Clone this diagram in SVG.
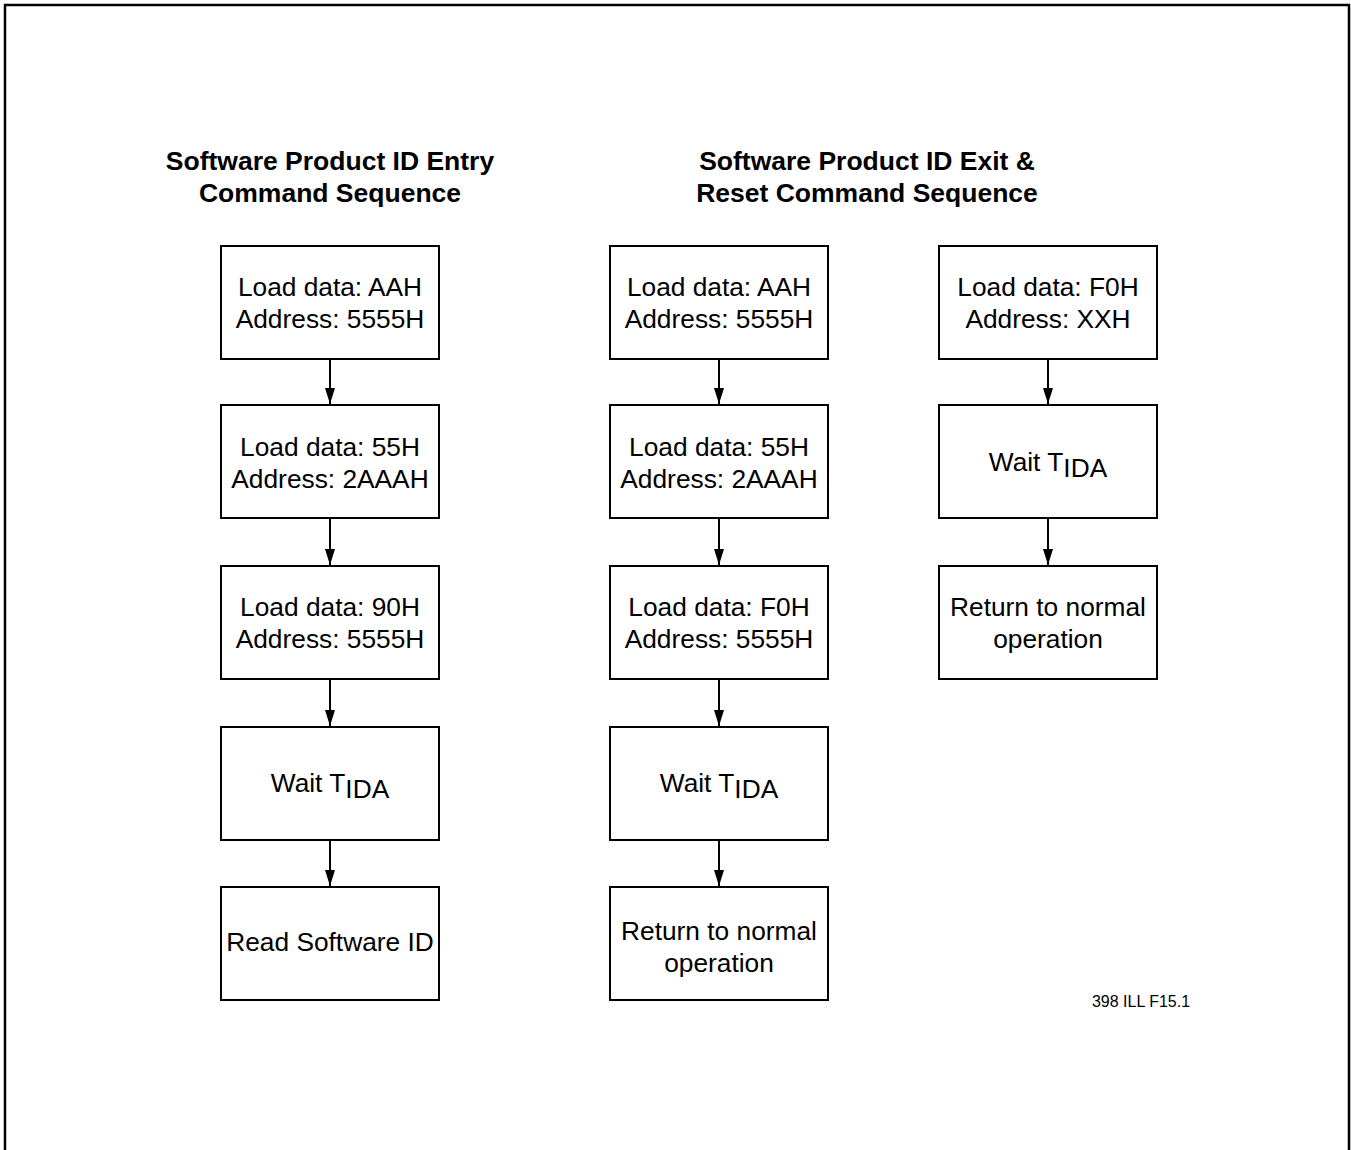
<svg xmlns="http://www.w3.org/2000/svg" width="1351" height="1150" viewBox="0 0 1351 1150">
<style>
.box{fill:#fff;stroke:#000;stroke-width:2}
.t{font-family:"Liberation Sans",Arial,sans-serif;font-size:26.3px;fill:#000;text-anchor:middle}
.h{font-family:"Liberation Sans",Arial,sans-serif;font-size:26.5px;font-weight:bold;fill:#000;text-anchor:middle}
.c{stroke:#000;stroke-width:2;fill:none;marker-end:url(#ah)}
</style>
<defs>
<marker id="ah" markerUnits="userSpaceOnUse" markerWidth="16" markerHeight="10" viewBox="0 -5 16 10" refX="16" refY="0" orient="auto">
<path d="M0,-5 L16,0 L0,5 z" fill="#000"/>
</marker>
</defs>
<rect width="1351" height="1150" fill="#fff"/>
<path d="M5,1152 V5 H1349 V1152" fill="none" stroke="#000" stroke-width="2.5"/>
<g id="titles">
<text class="h" x="330" y="170">Software Product ID Entry</text>
<text class="h" x="330" y="202">Command Sequence</text>
<text class="h" x="867" y="170">Software Product ID Exit &amp;</text>
<text class="h" x="867" y="202">Reset Command Sequence</text>
</g>
<g id="connectors">
<line class="c" x1="330" y1="360" x2="330" y2="404"/>
<line class="c" x1="330" y1="519" x2="330" y2="565"/>
<line class="c" x1="330" y1="680" x2="330" y2="726"/>
<line class="c" x1="330" y1="841" x2="330" y2="886"/>
<line class="c" x1="719" y1="360" x2="719" y2="404"/>
<line class="c" x1="719" y1="519" x2="719" y2="565"/>
<line class="c" x1="719" y1="680" x2="719" y2="726"/>
<line class="c" x1="719" y1="841" x2="719" y2="886"/>
<line class="c" x1="1048" y1="360" x2="1048" y2="404"/>
<line class="c" x1="1048" y1="519" x2="1048" y2="565"/>
</g>
<g id="e1"><rect class="box" x="221" y="246" width="218" height="113"/><text class="t" x="330" y="296">Load data: AAH</text><text class="t" x="330" y="328">Address: 5555H</text></g>
<g id="e2"><rect class="box" x="221" y="405" width="218" height="113"/><text class="t" x="330" y="456">Load data: 55H</text><text class="t" x="330" y="488">Address: 2AAAH</text></g>
<g id="e3"><rect class="box" x="221" y="566" width="218" height="113"/><text class="t" x="330" y="616">Load data: 90H</text><text class="t" x="330" y="648">Address: 5555H</text></g>
<g id="e4"><rect class="box" x="221" y="727" width="218" height="113"/><text class="t" x="330" y="792">Wait T<tspan dy="6">IDA</tspan></text></g>
<g id="e5"><rect class="box" x="221" y="887" width="218" height="113"/><text class="t" x="330" y="951">Read Software ID</text></g>
<g id="x1"><rect class="box" x="610" y="246" width="218" height="113"/><text class="t" x="719" y="296">Load data: AAH</text><text class="t" x="719" y="328">Address: 5555H</text></g>
<g id="x2"><rect class="box" x="610" y="405" width="218" height="113"/><text class="t" x="719" y="456">Load data: 55H</text><text class="t" x="719" y="488">Address: 2AAAH</text></g>
<g id="x3"><rect class="box" x="610" y="566" width="218" height="113"/><text class="t" x="719" y="616">Load data: F0H</text><text class="t" x="719" y="648">Address: 5555H</text></g>
<g id="x4"><rect class="box" x="610" y="727" width="218" height="113"/><text class="t" x="719" y="792">Wait T<tspan dy="6">IDA</tspan></text></g>
<g id="x5"><rect class="box" x="610" y="887" width="218" height="113"/><text class="t" x="719" y="940">Return to normal</text><text class="t" x="719" y="972">operation</text></g>
<g id="r1"><rect class="box" x="939" y="246" width="218" height="113"/><text class="t" x="1048" y="296">Load data: F0H</text><text class="t" x="1048" y="328">Address: XXH</text></g>
<g id="r2"><rect class="box" x="939" y="405" width="218" height="113"/><text class="t" x="1048" y="471">Wait T<tspan dy="6">IDA</tspan></text></g>
<g id="r3"><rect class="box" x="939" y="566" width="218" height="113"/><text class="t" x="1048" y="616">Return to normal</text><text class="t" x="1048" y="648">operation</text></g>
<text x="1141" y="1007" font-family="Liberation Sans, Arial, sans-serif" font-size="16" text-anchor="middle">398 ILL F15.1</text>
</svg>
